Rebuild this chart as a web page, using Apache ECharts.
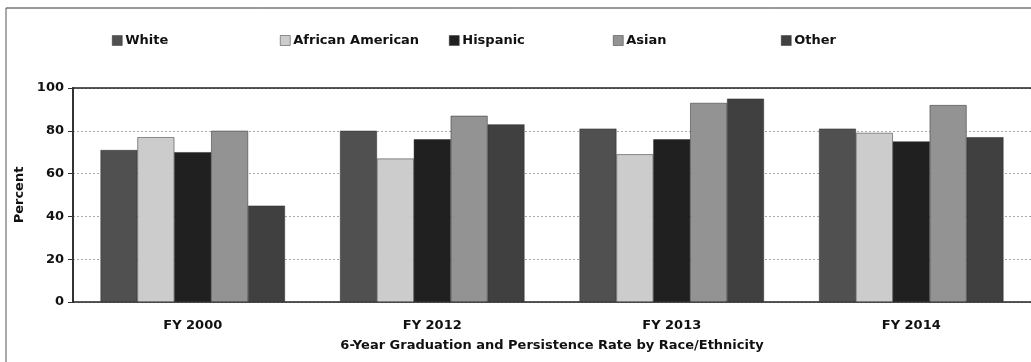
<!DOCTYPE html>
<html>
<head>
<meta charset="utf-8">
<script src="https://cdn.jsdelivr.net/npm/echarts@6/dist/echarts.min.js"></script>
<style>
  html, body { margin: 0; padding: 0; background: #fff; }
  #chart { width: 1031px; height: 362px; }
</style>
</head>
<body>
<div id="chart"></div>
<script>
// data
const categories = ["FY 2000", "FY 2012", "FY 2013", "FY 2014"];
const seriesNames = ["White", "African American", "Hispanic", "Asian", "Other"];
const white = [71, 80, 81, 81];
const africanAmerican = [77, 67, 69, 79];
const hispanic = [70, 76, 76, 75];
const asian = [80, 87, 93, 92];
const other = [45, 83, 95, 77];
const yTicks = [0, 20, 40, 60, 80, 100];

const values = [white, africanAmerican, hispanic, asian, other];
const colors = ["#505050", "#cccccc", "#202020", "#939393", "#404040"];
// the source chart lays legend entries out on its own fixed slots
const legendLeft = [112, 280, 449, 613, 781];

const FONT = "'DejaVu Sans', Verdana, sans-serif";
const bold13 = { fontFamily: FONT, fontWeight: "bold", fontSize: 13, color: "#111" };

const chart = echarts.init(document.getElementById("chart"));

chart.setOption({
  animation: false,
  textStyle: { fontFamily: FONT },
  graphic: [
    { type: "line", shape: { x1: 6, y1: 8, x2: 1031, y2: 8 }, style: { stroke: "#333", lineWidth: 1 } },
    { type: "line", shape: { x1: 6, y1: 8, x2: 6, y2: 362 }, style: { stroke: "#555", lineWidth: 1 } }
  ],
  legend: seriesNames.map((n, i) => ({
    data: [n],
    left: legendLeft[i],
    top: 34,
    padding: 0,
    icon: "rect",
    itemWidth: 10,
    itemHeight: 10,
    selectedMode: false,
    itemStyle: { borderColor: "#333", borderWidth: 0.5 },
    textStyle: Object.assign({ padding: [0, 0, 0, -2] }, bold13)
  })),
  grid: { left: 73, right: -1, top: 88, bottom: 60 },
  xAxis: [{
    type: "category",
    data: categories,
    name: "6-Year Graduation and Persistence Rate by Race/Ethnicity",
    nameLocation: "middle",
    nameGap: 37,
    nameTextStyle: bold13,
    axisLine: { lineStyle: { color: "#222", width: 1.5 } },
    axisTick: { alignWithLabel: true, length: 5, lineStyle: { color: "#222" } },
    axisLabel: Object.assign({ margin: 17 }, bold13)
  }, {
    type: "category",
    data: categories,
    position: "top",
    axisLine: { lineStyle: { color: "#222", width: 1.5 } },
    axisTick: { show: false },
    axisLabel: { show: false }
  }],
  yAxis: {
    type: "value",
    min: yTicks[0],
    max: yTicks[yTicks.length - 1],
    interval: 20,
    name: "Percent",
    nameLocation: "middle",
    nameGap: 40,
    nameTextStyle: bold13,
    axisLine: { show: true, lineStyle: { color: "#333", width: 2 } },
    axisTick: { show: true, length: 5, lineStyle: { color: "#333" } },
    axisLabel: Object.assign({ margin: 9 }, bold13),
    splitLine: { lineStyle: { color: "#aaa", type: [2, 2], width: 1 } }
  },
  series: seriesNames.map((n, i) => ({
    name: n,
    type: "bar",
    data: values[i],
    barGap: "0%",
    barCategoryGap: "23%",
    itemStyle: { color: colors[i], borderColor: "#2a2a2a", borderWidth: 0.5 }
  }))
});
</script>
</body>
</html>
